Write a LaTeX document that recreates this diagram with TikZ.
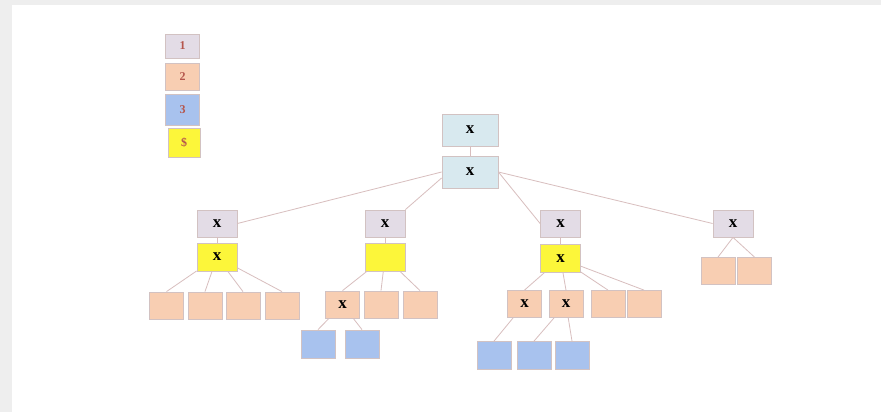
\documentclass[tikz,border=0pt]{standalone}
\usepackage{fontspec}
\setmainfont{Liberation Serif}
\definecolor{bord}{HTML}{D2C2C2}
\definecolor{edgec}{HTML}{D8BEBE}
\definecolor{lav}{HTML}{E3DCE6}
\definecolor{peach}{HTML}{F8CEB2}
\definecolor{bluec}{HTML}{A8C2EE}
\definecolor{yel}{HTML}{FCF63A}
\definecolor{rootc}{HTML}{D8E9EF}
\definecolor{legt}{HTML}{B5564C}
\definecolor{shadowc}{HTML}{EEEEEE}
\tikzset{
  box/.style={draw=bord, line width=0.8pt, inner sep=0pt, font=\fontsize{17}{17}\selectfont\bfseries},
  rbox/.style={box, fill=rootc, minimum width=56pt, minimum height=32pt},
  lbox/.style={box, fill=lav, minimum width=40pt, minimum height=27pt},
  ybox/.style={box, fill=yel, minimum width=40pt, minimum height=28pt},
  pbox/.style={box, fill=peach, minimum width=34pt, minimum height=27pt},
  bbox/.style={box, fill=bluec, minimum width=34pt, minimum height=28pt},
  legbox/.style={draw=bord, line width=0.8pt, inner sep=0pt, minimum width=34pt, text=legt, font=\fontsize{12}{12}\selectfont\bfseries},
  edge/.style={draw=edgec, line width=0.8pt}
}
\begin{document}
\begin{tikzpicture}[x=1pt,y=-1pt]
\useasboundingbox (0,0) rectangle (881,412);
\fill[shadowc] (0,0) rectangle (881,412);
\fill[white] (12,5) rectangle (881,412);
% legend
\node[legbox, fill=lav, minimum height=24pt] (L1) at (182.5,46) {1};
\node[legbox, fill=peach, minimum height=27pt] (L2) at (182.5,77) {2};
\node[legbox, fill=bluec, minimum height=31pt] (L3) at (182.5,110) {3};
\node[legbox, fill=yel, minimum height=29pt, minimum width=32pt] (L4) at (184,142.5) {\$};
% root
\node[rbox] (r1) at (470,130) {x};
\node[rbox] (r2) at (470,172) {x};
% level 1
\node[lbox] (A) at (217,223.5) {x};
\node[ybox] (Ay) at (217,257) {x};
\node[lbox] (B) at (385,223.5) {x};
\node[ybox] (By) at (385,257) {};
\node[lbox] (C) at (560.5,223.5) {x};
\node[ybox] (Cy) at (560.5,258.5) {x};
\node[lbox] (D) at (733,223.5) {x};
% A children
\node[pbox] (A1) at (166.5,305.5) {};
\node[pbox] (A2) at (205,305.5) {};
\node[pbox] (A3) at (243,305.5) {};
\node[pbox] (A4) at (282,305.5) {};
% B children
\node[pbox] (B1) at (342.5,304.5) {x};
\node[pbox] (B2) at (381,304.5) {};
\node[pbox] (B3) at (420,304.5) {};
\node[bbox] (B11) at (318,344) {};
\node[bbox] (B12) at (362,344) {};
% C children
\node[pbox] (C1) at (524.5,304) {x};
\node[pbox] (C2) at (566,304) {x};
\node[pbox] (C3) at (608,304) {};
\node[pbox] (C4) at (644,304) {};
\node[bbox] (C11) at (494,355.5) {};
\node[bbox] (C21) at (534,355.5) {};
\node[bbox] (C22) at (572,355.5) {};
% D children
\node[pbox] (D1) at (718,271) {};
\node[pbox] (D2) at (754.5,271) {};
% edges
\path[edge] (r1) -- (r2);
\path[edge] (r2.west) -- (A.east);
\path[edge] ([yshift=-6pt]r2.west) -- (B.north east);
\path[edge] (r2.east) -- (C.west);
\path[edge] (r2.east) -- (D.west);
\path[edge] (A) -- (Ay);
\path[edge] (B) -- (By);
\path[edge] (C) -- (Cy);
\foreach \c in {A1,A2,A3,A4} \path[edge] (Ay) -- (\c.north);
\foreach \c in {B1,B2,B3} \path[edge] (By) -- (\c.north);
\foreach \c in {B11,B12} \path[edge] (B1) -- (\c.north);
\foreach \c in {C1,C2,C3,C4} \path[edge] (Cy) -- (\c.north);
\path[edge] (C1) -- (C11.north);
\foreach \c in {C21,C22} \path[edge] (C2) -- (\c.north);
\foreach \c in {D1,D2} \path[edge] (D.south) -- (\c.north);
\end{tikzpicture}
\end{document}
